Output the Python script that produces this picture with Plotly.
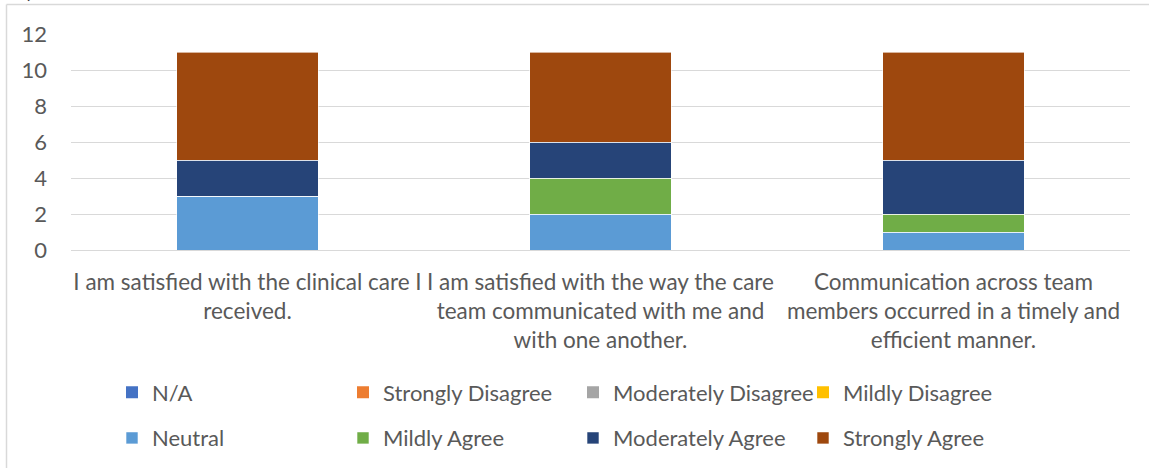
import plotly.graph_objects as go

# Survey statements (x categories)
categories = [
    "I am satisfied with the clinical care I<br>received.",
    "I am satisfied with the way the care<br>team communicated with me and<br>with one another.",
    "Communication across team<br>members occurred in a timely and<br>efficient manner.",
]

# Response counts per statement
na_counts = [0, 0, 0]
strongly_disagree = [0, 0, 0]
moderately_disagree = [0, 0, 0]
mildly_disagree = [0, 0, 0]
neutral = [3, 2, 1]
mildly_agree = [0, 2, 1]
moderately_agree = [2, 2, 3]
strongly_agree = [6, 5, 6]

y_ticks = [0, 2, 4, 6, 8, 10, 12]

series = [
    ("N/A", na_counts, "#4472C4", "legend"),
    ("Strongly Disagree", strongly_disagree, "#ED7D31", "legend2"),
    ("Moderately Disagree", moderately_disagree, "#A5A5A5", "legend3"),
    ("Mildly Disagree", mildly_disagree, "#FFC000", "legend4"),
    ("Neutral", neutral, "#5B9BD5", "legend"),
    ("Mildly Agree", mildly_agree, "#70AD47", "legend2"),
    ("Moderately Agree", moderately_agree, "#264478", "legend3"),
    ("Strongly Agree", strongly_agree, "#9E480E", "legend4"),
]

W, H = 1149, 468
ML, MR, MT, MB = 71, 19, 34, 218
PW, PH = W - ML - MR, H - MT - MB

def px_x(px):
    return (px - ML) / PW

def px_y(py):
    return (H - MB - py) / PH

FONT = "Lato"
TXT = "#595959"
FS = 22.5
LFS = 22

fig = go.Figure()
for i, (name, vals, color, leg) in enumerate(series):
    fig.add_trace(go.Bar(
        name=name, x=categories, y=vals,
        marker=dict(color=color, line=dict(color="rgba(255,255,255,0.6)", width=1 if any(vals) else 0)),
        legend=leg, legendgroup=name,
    ))

# left edge of each legend column's text
legend_text_x = [153, 384, 614, 844]
legends = {}
for j, key in enumerate(["legend", "legend2", "legend3", "legend4"]):
    legends[key] = dict(
        x=px_x(legend_text_x[j] - 41), xanchor="left",
        y=px_y(415.5), yanchor="middle",
        orientation="v", traceorder="grouped", tracegroupgap=14,
        font=dict(family=FONT, size=LFS, color=TXT),
        bgcolor="rgba(0,0,0,0)", itemclick=False,
    )

fig.update_layout(
    width=W, height=H,
    margin=dict(l=ML, r=MR, t=MT, b=MB, pad=0, autoexpand=False),
    barmode="stack", bargap=0.6,
    paper_bgcolor="white", plot_bgcolor="white",
    font=dict(family=FONT, size=FS, color=TXT),
    showlegend=True,
    xaxis=dict(showgrid=False, showline=False, ticks="", tickfont=dict(size=FS, color=TXT),
               ticklabelstandoff=16),
    yaxis=dict(range=[0, 12], tickvals=y_ticks, showgrid=True, gridcolor="#D9D9D9", gridwidth=1,
               zeroline=True, zerolinecolor="#D9D9D9", zerolinewidth=1, showline=False, ticks="",
               tickfont=dict(size=22, color=TXT), ticklabelstandoff=23),
    shapes=[
        dict(type="line", xref="paper", yref="paper", x0=px_x(6.5), x1=px_x(W), y0=px_y(4.5), y1=px_y(4.5),
             line=dict(color="#D9D9D9", width=1.5)),
        dict(type="line", xref="paper", yref="paper", x0=px_x(6.5), x1=px_x(6.5), y0=px_y(4.5), y1=px_y(H),
             line=dict(color="#D9D9D9", width=1.5)),
    ],
    annotations=[
        dict(text=")", xref="paper", yref="paper", x=px_x(30), y=px_y(5), xanchor="center", yanchor="bottom",
             showarrow=False, font=dict(family=FONT, size=22, color="#333333")),
    ],
    **legends,
)

fig.write_html("out.html")
